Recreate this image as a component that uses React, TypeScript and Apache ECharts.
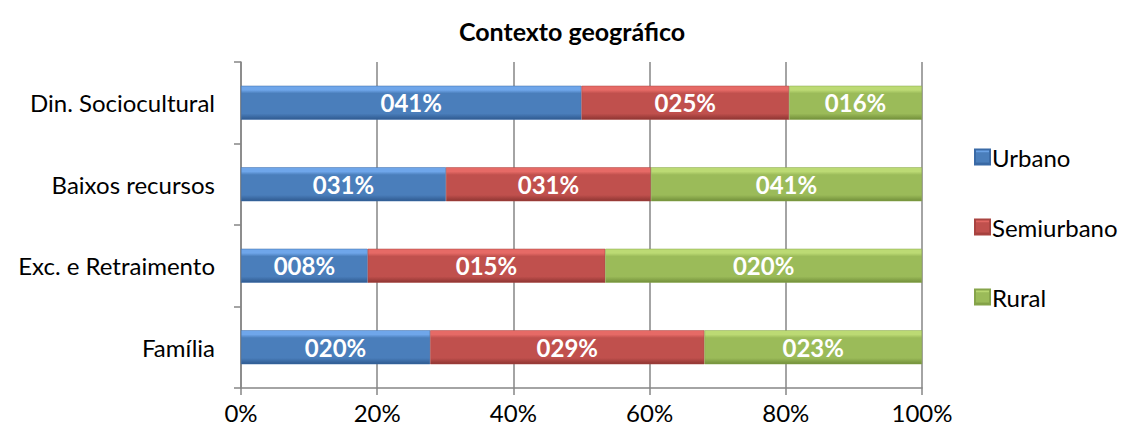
import React, { useEffect, useRef } from "react";
import * as echarts from "echarts";

const categories = ["Din. Sociocultural", "Baixos recursos", "Exc. e Retraimento", "Família"];
const urbano = [41, 31, 8, 20];
const semiurbano = [25, 31, 15, 29];
const rural = [16, 41, 20, 23];
const xTicks = [0, 20, 40, 60, 80, 100];

const FONT = "Lato, 'Open Sans', sans-serif";

function grad(top: string, mid: string, bottom: string) {
  return new echarts.graphic.LinearGradient(0, 0, 0, 1, [
    { offset: 0, color: top },
    { offset: 0.12, color: top },
    { offset: 0.22, color: mid },
    { offset: 0.82, color: mid },
    { offset: 1, color: bottom },
  ]);
}

export default function App() {
  const ref = useRef<HTMLDivElement>(null);
  useEffect(() => {
    if (!ref.current) return;
    const chart = echarts.init(ref.current, null, { renderer: "svg" });
    const totals = categories.map((_, i) => urbano[i] + semiurbano[i] + rural[i]);
    const pct = (arr: number[]) => arr.map((v, i) => ({ value: (v / totals[i]) * 100, raw: v }));
    const label = {
      show: true,
      position: "inside",
      color: "#fff",
      fontFamily: FONT,
      fontWeight: "bold",
      fontSize: 24,
      formatter: (p: any) => String(p.data.raw).padStart(3, "0") + "%",
    };
    const mk = (name: string, arr: number[], c: any, border: string) => ({
      name,
      type: "bar",
      stack: "total",
      barWidth: 34,
      data: pct(arr),
      label,
      itemStyle: { color: c, borderColor: border, borderWidth: 0.5 },
    });
    chart.setOption({
      animation: false,
      backgroundColor: "#fff",
      title: {
        text: "Contexto geográfico",
        left: 567,
        textAlign: "center",
        top: 13,
        textStyle: { fontFamily: FONT, fontWeight: "bold", fontSize: 25, color: "#000" },
      },
      grid: { left: 241, right: 202, top: 62, bottom: 42, containLabel: false },
      legend: {
        orient: "vertical",
        left: 969,
        top: 140,
        itemWidth: 15,
        itemHeight: 15,
        itemGap: 46,
        icon: "rect",
        textStyle: { fontFamily: FONT, fontSize: 24, color: "#000", padding: [0, 0, 0, -3] },
        data: ["Urbano", "Semiurbano", "Rural"],
      },
      xAxis: {
        type: "value",
        min: xTicks[0],
        max: xTicks[xTicks.length - 1],
        interval: 20,
        axisLine: { show: true, lineStyle: { color: "#868686", width: 1.5 } },
        axisTick: { show: true, length: 7, lineStyle: { color: "#868686", width: 1.5 } },
        splitLine: { show: true, lineStyle: { color: "#868686", width: 1.5 } },
        axisLabel: {
          formatter: "{value}%",
          fontFamily: FONT,
          fontSize: 24,
          color: "#000",
          margin: 12,
        },
      },
      yAxis: {
        type: "category",
        inverse: true,
        data: categories,
        axisLine: { show: true, lineStyle: { color: "#868686", width: 1.5 } },
        axisTick: { show: true, length: 7, lineStyle: { color: "#868686", width: 1.5 } },
        axisLabel: { fontFamily: FONT, fontSize: 24, color: "#000", margin: 26 },
      },
      series: [
        mk("Urbano", urbano, grad("#6fa6ea", "#4a7ebb", "#2f5a90"), "#3a6aa6"),
        mk("Semiurbano", semiurbano, grad("#e66a66", "#c0504d", "#8e3532"), "#a94441"),
        mk("Rural", rural, grad("#bcda74", "#9bbb59", "#728f3a"), "#86a44a"),
      ],
    });
    return () => chart.dispose();
  }, []);
  return <div ref={ref} style={{ width: 1124, height: 430 }} />;
}

const _style = document.createElement("style");
_style.textContent = "body{margin:0}";
document.head.appendChild(_style);
